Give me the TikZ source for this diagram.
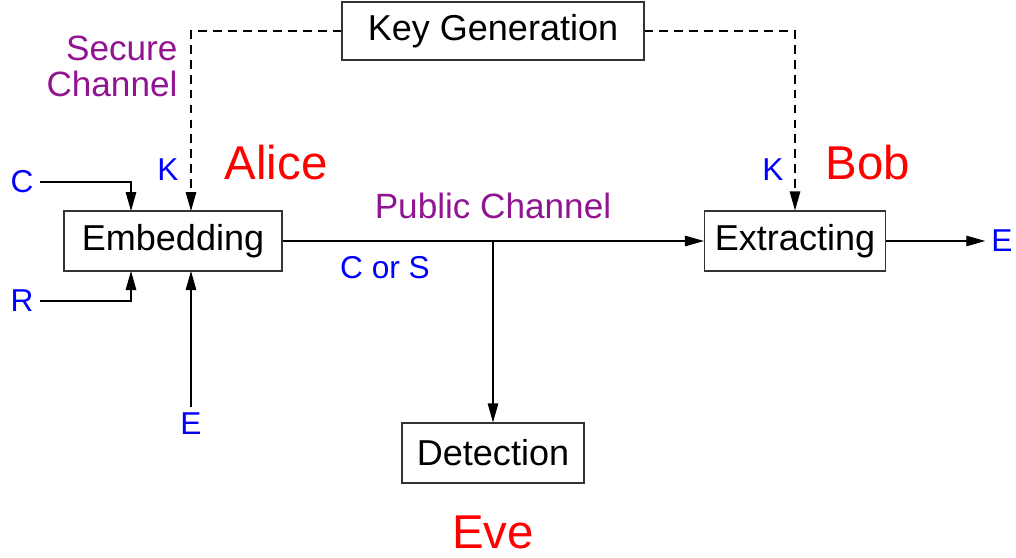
\documentclass[tikz,border=0pt]{standalone}
\usepackage{fontspec}
\setmainfont{Liberation Sans}
\usetikzlibrary{arrows.meta}
\definecolor{chanpurple}{RGB}{145,20,145}
\begin{document}
\begin{tikzpicture}[x=0.2mm, y=-0.2mm,
    block/.style={draw=black!80, line width=0.6pt, minimum height=12mm, inner sep=0pt, font=\fontsize{20.5}{24}\selectfont},
    sig/.style={text=blue, font=\fontsize{18}{21}\selectfont},
    party/.style={text=red, font=\fontsize{27}{32}\selectfont},
    chan/.style={text=chanpurple, font=\fontsize{20}{20.5}\selectfont},
    link/.style={line width=0.6pt, -{Triangle[length=3.8mm,width=2.1mm]}},
    keylink/.style={link, dash pattern=on 5pt off 3.5pt}]
    \useasboundingbox (0,0) rectangle (1016,558);
    % boxes
    \node[block, minimum width=60.4mm, minimum height=11.6mm] (keygen) at (493,31) {Key Generation};
    \node[block, minimum width=43.6mm] (embed) at (173,241) {Embedding};
    \node[block, minimum width=36.2mm] (extract) at (795,241) {Extracting};
    \node[block, minimum width=36.4mm] (detect) at (493,453) {Detection};
    % inputs and outputs
    \node[sig] (cover) at (22,182) {C};
    \node[sig] (rand) at (22,301) {R};
    \node[sig] (emsg) at (191,424) {E};
    \node[sig] (omsg) at (1002,241) {E};
    \node[sig] at (168,170) {K};
    \node[sig] at (773,170) {K};
    \node[sig] at (385,268) {C or S};
    % parties and channels
    \node[party] at (276,163) {Alice};
    \node[party] at (868,163) {Bob};
    \node[party] at (493,532) {Eve};
    \node[chan] at (493,206) {Public Channel};
    \node[chan, align=right] at (112,66) {Secure\\Channel};
    \coordinate (embC) at (131,211);
    \coordinate (embR) at (131,271);
    \coordinate (embK) at (191,211);
    \coordinate (embE) at (191,271);
    \coordinate (tap) at (493,241);
    % connectors
    \draw[keylink] (keygen.west) -| (embK);
    \draw[keylink] (keygen.east) -| (extract.north);
    \draw[link] (cover.east) -| (embC);
    \draw[link] (rand.east) -| (embR);
    \draw[link] (emsg.north) -- (embE);
    \draw[link] (embed.east) -- (extract.west);
    \draw[link] (tap) -- (detect.north);
    \draw[link] (extract.east) -- (omsg.west);
\end{tikzpicture}
\end{document}
